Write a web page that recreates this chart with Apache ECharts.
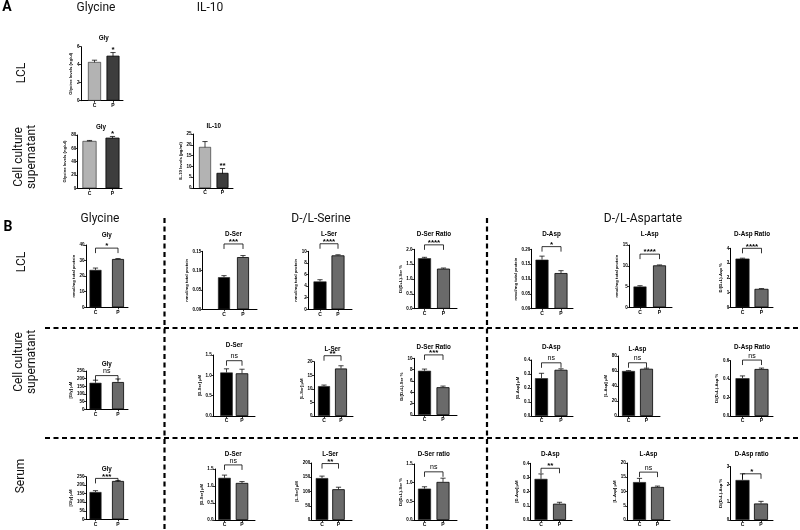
<!DOCTYPE html>
<html><head><meta charset="utf-8">
<script src="https://cdn.jsdelivr.net/npm/echarts@6/dist/echarts.min.js"></script>
<style>html,body{margin:0;padding:0;background:#fff}#c{width:800px;height:530px}</style>
</head><body><div id="c"></div>
<script>
// ---------------- DATA ----------------
const categories = ['C', 'P'];
const panelTitles = ['Gly', 'Gly', 'IL-10',
  'Gly', 'Gly', 'Gly',
  'D-Ser', 'L-Ser', 'D-Ser Ratio', 'D-Asp', 'L-Asp', 'D-Asp Ratio',
  'D-Ser', 'L-Ser', 'D-Ser Ratio', 'D-Asp', 'L-Asp', 'D-Asp Ratio',
  'D-Ser', 'L-Ser', 'D-Ser ratio', 'D-Asp', 'L-Asp', 'D-Asp ratio'];
const yAxisNames = ['Glycine levels (ng/ul)', 'Glycine levels (ng/ul)', 'IL-10 levels (pg/ml)',
  'nmol/mg total protein', '[Gly] μM', '[Gly] μM',
  'nmol/mg total protein', 'nmol/mg total protein', 'D/(D+L)-Ser %', 'nmol/mg total protein', 'nmol/mg total protein', 'D/(D+L)-Asp %',
  '[D-Ser] μM', '[L-Ser] μM', 'D/(D+L)-Ser %', '[D-Asp] μM', '[L-Asp] μM', 'D/(D+L)-Asp %',
  '[D-Ser] μM', '[L-Ser] μM', 'D/(D+L)-Ser %', '[D-Asp] μM', '[L-Asp] μM', 'D/(D+L)-Asp %'];
const meanValues = [[4.3, 5.0], [71, 76], [19, 7],
  [24, 31], [173, 178], [160, 225],
  [0.083, 0.135], [4.8, 9.3], [1.7, 1.35], [0.165, 0.12], [5.0, 10.1], [3.3, 1.25],
  [1.07, 1.05], [11, 17.5], [7.8, 4.9], [0.27, 0.33], [60, 63], [0.41, 0.51],
  [1.24, 1.09], [147, 108], [0.84, 1.02], [0.29, 0.115], [13.3, 11.6], [2.25, 0.93]];
const errorValues = [[0.2, 0.35], [0.8, 1.8], [2.5, 2.0],
  [1.2, 0.3], [17, 20], [8, 3],
  [0.004, 0.004], [0.3, 0.1], [0.03, 0.02], [0.012, 0.008], [0.2, 0.1], [0.03, 0.02],
  [0.09, 0.1], [0.4, 1.0], [0.3, 0.2], [0.035, 0.007], [0.5, 0.8], [0.025, 0.01],
  [0.08, 0.04], [7, 7], [0.05, 0.1], [0.035, 0.01], [1.3, 0.3], [0.35, 0.12]];
const sigLabels = ['*', '*', '**',
  '*', 'ns', '***',
  '***', '****', '****', '*', '****', '****',
  'ns', '**', '***', 'ns', 'ns', 'ns',
  'ns', '**', 'ns', '**', 'ns', '*'];
const bracketLevels = [null, null, null,
  38, 220, 240,
  0.169, 11.3, 2.15, 0.209, 12.8, 4.0,
  1.36, 22.2, 10.6, 0.38, 71, 0.607,
  1.62, 198, 1.29, 0.365, 16.8, 2.6];
const axisMax = [6, 80, 25, 40, 250, 250,
  0.15, 10, 2, 0.2, 15, 4,
  1.5, 20, 10, 0.4, 80, 0.6,
  1.5, 200, 1.5, 0.4, 20, 3];
const axisStep = [2, 20, 5, 10, 50, 50,
  0.05, 2, 0.5, 0.05, 5, 1,
  0.5, 5, 2, 0.1, 20, 0.2,
  0.5, 50, 0.5, 0.1, 5, 1];
const headersA = ['Glycine', 'IL-10'];
const headersB = ['Glycine', 'D-/L-Serine', 'D-/L-Aspartate'];
const rowLabelsA = ['LCL', 'Cell culture\nsupernatant'];
const rowLabelsB = ['LCL', 'Cell culture\nsupernatant', 'Serum'];

// ---------------- LAYOUT (px) ----------------
// [axisX, xEnd, top, bottom, centerC, centerP, barWidth, titleY]
const layout = [
  [81, 123, 46.7, 100.7, 94.5, 113, 13, 38],
  [77.7, 122, 135, 188.3, 89.5, 112.5, 14, 127],
  [193, 233, 134, 188, 205, 222.5, 12, 126],
  [86, 128, 245, 307.3, 95.5, 118, 12, 235],
  [86, 128, 371, 409.3, 95.5, 118, 12, 364],
  [86, 128, 476.7, 519.3, 95.5, 118, 12, 469],
  [202.7, 257, 251.3, 309.3, 224, 243, 12, 234],
  [308.3, 352, 251.3, 309.3, 320, 338, 13, 234],
  [414, 457, 249.3, 308.7, 424.5, 443.5, 13, 234],
  [531.7, 573, 249.3, 308.7, 542, 561, 13, 234],
  [629.3, 672, 245, 307.3, 640, 659.5, 13, 234],
  [730.7, 773, 248.3, 307.3, 742.5, 761.5, 14, 234],
  [213.3, 255, 355, 416, 226.5, 242, 12.5, 345],
  [314, 353, 361.7, 416, 324, 341, 12, 349],
  [414, 457, 358.3, 415, 424.5, 443, 13, 347],
  [531.7, 573, 360, 416, 541.5, 561, 13, 347],
  [618.3, 660, 356, 416, 628.5, 646.5, 13, 349],
  [730.7, 773, 360.7, 416, 742.5, 761.5, 14, 347],
  [215, 255, 469, 520, 224.5, 242, 12.5, 454],
  [311.7, 352, 463, 520, 322, 338.5, 12.5, 454],
  [414, 457, 464, 520, 424.5, 443, 13, 454],
  [530.7, 572, 463.3, 520, 541, 559.5, 13, 454],
  [627.3, 670, 463, 520, 639.5, 657.5, 13, 454],
  [730.7, 773, 466.7, 520, 742.5, 761, 14, 454]
];

const PRISM = 'Liberation Sans, Arial, sans-serif';
const HEAD = 'Roboto, "Noto Sans", sans-serif';

const grids = [], xAxes = [], yAxes = [], series = [], graphics = [];

function decimalsFor(step) {
  return Math.max(0, -Math.floor(Math.log10(step) + 1e-9));
}

meanValues.forEach((means, i) => {
  const [ax, xe, top, bot, cC, cP, bw, ty] = layout[i];
  const isA = i < 3;
  const s = cP - cC;
  const xmin = 1 - (cC - ax) / s;
  const xmax = 2 + (xe - cP) / s;
  grids.push({ left: ax, top: top, width: xe - ax, height: bot - top, containLabel: false });
  const dec = decimalsFor(axisStep[i]);
  xAxes.push({
    type: 'value', gridIndex: i, min: xmin, max: xmax,
    axisLine: { show: true, onZero: false, lineStyle: { color: '#000', width: 1 } },
    axisTick: { show: true, customValues: [1, 2], length: 2, lineStyle: { color: '#000', width: 0.8 } },
    axisLabel: { customValues: [1, 2], formatter: v => categories[Math.round(v) - 1], fontSize: 5, fontWeight: 'bold', color: '#000', margin: 2.5, fontFamily: PRISM },
    splitLine: { show: false }
  });
  yAxes.push({
    type: 'value', gridIndex: i, min: 0, max: axisMax[i], interval: axisStep[i],
    axisLine: { show: true, onZero: false, lineStyle: { color: '#000', width: 1 } },
    axisTick: { show: true, length: 2, lineStyle: { color: '#000', width: 0.8 } },
    axisLabel: { fontSize: 4.5, fontWeight: 'bold', color: '#000', margin: 1.5, fontFamily: PRISM, formatter: v => v.toFixed(dec) },
    splitLine: { show: false },
    name: yAxisNames[i], nameLocation: 'middle', nameRotate: 90, nameGap: 8,
    nameTextStyle: { fontSize: 4.2, fontWeight: 'bold', color: '#000', fontFamily: PRISM }
  });
  const colC = isA ? '#b3b3b3' : '#000';
  const colP = isA ? '#3d3d3d' : '#6a6a6a';
  series.push({
    type: 'bar', xAxisIndex: i, yAxisIndex: i, barWidth: bw, silent: true,
    data: [
      { value: [1, means[0]], itemStyle: { color: colC, borderColor: '#222', borderWidth: isA ? 0.6 : 0.6 } },
      { value: [2, means[1]], itemStyle: { color: colP, borderColor: '#000', borderWidth: 0.8 } }
    ]
  });
  const errs = errorValues[i];
  series.push({
    type: 'custom', xAxisIndex: i, yAxisIndex: i, silent: true, clip: false,
    data: [[1, means[0], errs[0]], [2, means[1], errs[1]]],
    renderItem: (params, api) => {
      const x = api.value(0), m = api.value(1), e = api.value(2);
      const pm = api.coord([x, m]), pt = api.coord([x, m + e]), pb = api.coord([x, m - e]);
      const cw = 2.6;
      const st = { stroke: '#111', lineWidth: 0.8 };
      const ch = [
        { type: 'line', shape: { x1: pm[0], y1: isA ? pb[1] : pm[1], x2: pm[0], y2: pt[1] }, style: st },
        { type: 'line', shape: { x1: pm[0] - cw, y1: pt[1], x2: pm[0] + cw, y2: pt[1] }, style: st }
      ];
      if (isA) ch.push({ type: 'line', shape: { x1: pm[0] - cw, y1: pb[1], x2: pm[0] + cw, y2: pb[1] }, style: st });
      return { type: 'group', children: ch };
    }
  });
  const lab = sigLabels[i];
  const isNs = lab === 'ns';
  const sigFont = (isNs ? 'normal 7px ' : 'bold 8px ') + PRISM;
  if (bracketLevels[i] === null) {
    series.push({
      type: 'custom', xAxisIndex: i, yAxisIndex: i, silent: true, clip: false,
      data: [[2, means[1] + errs[1]]],
      renderItem: (params, api) => {
        const p = api.coord([api.value(0), api.value(1)]);
        return { type: 'text', style: { text: lab, x: p[0], y: p[1] + 1, align: 'center', verticalAlign: 'bottom', font: sigFont, fill: '#000' } };
      }
    });
  } else {
    series.push({
      type: 'custom', xAxisIndex: i, yAxisIndex: i, silent: true, clip: false,
      data: [[1.5, bracketLevels[i]]],
      renderItem: (params, api) => {
        const lvl = api.value(1);
        const a = api.coord([1, lvl]), b = api.coord([2, lvl]);
        const drop = 5;
        return {
          type: 'group', children: [
            { type: 'polyline', shape: { points: [[a[0], a[1] + drop], [a[0], a[1]], [b[0], b[1]], [b[0], b[1] + drop]] }, style: { stroke: '#000', lineWidth: 0.8, fill: null } },
            { type: 'text', style: { text: lab, x: (a[0] + b[0]) / 2, y: a[1] + (isNs ? -0.8 : 2), align: 'center', verticalAlign: 'bottom', font: sigFont, fill: '#000' } }
          ]
        };
      }
    });
  }
  graphics.push({ type: 'text', x: (cC + cP) / 2, y: ty, style: { text: panelTitles[i], align: 'center', verticalAlign: 'middle', font: 'bold 6.3px ' + PRISM, fill: '#000' } });
});

// headers and row labels
graphics.push({ type: 'text', x: 7, y: 7, style: { text: 'A', align: 'center', verticalAlign: 'middle', font: 'bold 14px ' + HEAD, fill: '#000' } });
graphics.push({ type: 'text', x: 8, y: 227, style: { text: 'B', align: 'center', verticalAlign: 'middle', font: 'bold 14px ' + HEAD, fill: '#000' } });
[[96, 8], [210, 8]].forEach((p, k) => graphics.push({ type: 'text', x: p[0], y: p[1], style: { text: headersA[k], align: 'center', verticalAlign: 'middle', font: '12px ' + HEAD, fill: '#111' } }));
[[100, 219], [321, 219], [643, 219]].forEach((p, k) => graphics.push({ type: 'text', x: p[0], y: p[1], style: { text: headersB[k], align: 'center', verticalAlign: 'middle', font: '12px ' + HEAD, fill: '#111' } }));
[[22, 73], [25, 157]].forEach((p, k) => graphics.push({ type: 'text', x: p[0], y: p[1], rotation: Math.PI / 2, style: { text: rowLabelsA[k], align: 'center', verticalAlign: 'middle', font: '12px ' + HEAD, lineHeight: 13, fill: '#111' } }));
[[22, 262], [25, 362], [21, 476]].forEach((p, k) => graphics.push({ type: 'text', x: p[0], y: p[1], rotation: Math.PI / 2, style: { text: rowLabelsB[k], align: 'center', verticalAlign: 'middle', font: '12px ' + HEAD, lineHeight: 13, fill: '#111' } }));

// dashed separators
const dash = { stroke: '#000', lineWidth: 2.2, lineDash: [5, 3.5] };
graphics.push({ type: 'line', shape: { x1: 164.5, y1: 218, x2: 164.5, y2: 530 }, style: dash });
graphics.push({ type: 'line', shape: { x1: 487, y1: 218, x2: 487, y2: 530 }, style: dash });
graphics.push({ type: 'line', shape: { x1: 45, y1: 328, x2: 800, y2: 328 }, style: dash });
graphics.push({ type: 'line', shape: { x1: 45, y1: 438, x2: 800, y2: 438 }, style: dash });

const chart = echarts.init(document.getElementById('c'), null, { renderer: 'canvas' });
chart.setOption({
  animation: false,
  backgroundColor: '#fff',
  grid: grids, xAxis: xAxes, yAxis: yAxes, series: series,
  graphic: graphics
});
</script></body></html>
